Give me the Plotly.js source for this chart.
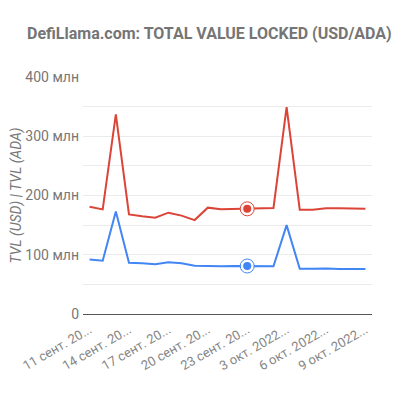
<!DOCTYPE html>
<html>
<head>
<meta charset="utf-8">
<script src="https://cdn.plot.ly/plotly-3.0.1.min.js"></script>
<style>html,body{margin:0;padding:0;background:#fff;}#chart{width:405px;height:397px;}</style>
</head>
<body>
<div id="chart"></div>
<script>
const dates = ['11 сент. 2022 г.','12 сент. 2022 г.','13 сент. 2022 г.','14 сент. 2022 г.','15 сент. 2022 г.','16 сент. 2022 г.','17 сент. 2022 г.','18 сент. 2022 г.','19 сент. 2022 г.','20 сент. 2022 г.','21 сент. 2022 г.','22 сент. 2022 г.','23 сент. 2022 г.','1 окт. 2022 г.','2 окт. 2022 г.','3 окт. 2022 г.','4 окт. 2022 г.','5 окт. 2022 г.','6 окт. 2022 г.','7 окт. 2022 г.','8 окт. 2022 г.','9 окт. 2022 г.'];
const tvlUsd = [181,176.5,337,168,165,162.5,171,166,158.5,179.5,177,177.5,177.5,177.5,179,349,176,176,178.5,178.5,178.5,177.5];
const tvlAda = [92,90,173,86.5,85.5,84,87.5,85.5,81.5,80.5,80.5,81,81,81.5,80.5,150,76.5,76.5,77,76,76,76];
const tickIdx = [0,3,6,9,12,15,18,21];
const tickLabels = ['11 сент. 20...','14 сент. 20...','17 сент. 20...','20 сент. 20...','23 сент. 20...','3 окт. 2022...','6 окт. 2022...','9 окт. 2022...'];
const yTickVals = [0,50,100,150,200,250,300,350,400];
const yTickText = ['0','','100 млн','','200 млн','','300 млн','','400 млн'];
const selIdx = 12;

const red = '#db4437', blue = '#4285f4';
const traces = [
  {x: dates, y: tvlUsd, type:'scatter', mode:'lines', line:{color:red,width:2}, name:'TVL (USD)', hoverinfo:'skip'},
  {x: dates, y: tvlAda, type:'scatter', mode:'lines', line:{color:blue,width:2}, name:'TVL (ADA)', hoverinfo:'skip'},
  {x:[dates[selIdx]], y:[tvlUsd[selIdx]], type:'scatter', mode:'markers', marker:{size:14,color:'rgba(255,255,255,0.9)',line:{color:red,width:1}}, hoverinfo:'skip'},
  {x:[dates[selIdx]], y:[tvlUsd[selIdx]], type:'scatter', mode:'markers', marker:{size:8,color:red}, hoverinfo:'skip'},
  {x:[dates[selIdx]], y:[tvlAda[selIdx]], type:'scatter', mode:'markers', marker:{size:14,color:'rgba(255,255,255,0.9)',line:{color:blue,width:1}}, hoverinfo:'skip'},
  {x:[dates[selIdx]], y:[tvlAda[selIdx]], type:'scatter', mode:'markers', marker:{size:8,color:blue}, hoverinfo:'skip'}
];
const layout = {
  width:405, height:397,
  margin:{l:83, r:33, t:77, b:83},
  paper_bgcolor:'#fff', plot_bgcolor:'#fff',
  showlegend:false,
  font:{family:'Roboto, Arial, sans-serif', color:'#666'},
  title:{text:'DefiLlama.com: TOTAL VALUE LOCKED (USD/ADA)', font:{size:16, color:'#757575', family:'Roboto, Arial, sans-serif', weight:700}, x:0.517, xanchor:'center', y:0.915, yanchor:'middle'},
  xaxis:{
    type:'category', range:[-0.5, dates.length-0.5],
    tickvals: tickIdx.map(i=>dates[i]), ticktext: tickLabels,
    tickangle:-30, tickfont:{size:13, color:'#858585'}, ticklabelstandoff:5,
    showgrid:false, zeroline:false, showline:false, ticks:'', fixedrange:true
  },
  yaxis:{
    range:[0,400], tickvals:yTickVals, ticktext:yTickText,
    tickfont:{size:14, color:'#777'}, gridcolor:'#ebebeb', gridwidth:1,
    zeroline:true, zerolinecolor:'#555', zerolinewidth:1,
    showline:false, ticks:'', ticklabelstandoff:3,
    title:{text:'TVL (USD) | TVL (ADA)', font:{size:14, color:'#777', style:'italic'}, standoff:0},
    automargin:false, fixedrange:true
  }
};
Plotly.newPlot('chart', traces, layout, {displayModeBar:false, staticPlot:true});
</script>
</body>
</html>
